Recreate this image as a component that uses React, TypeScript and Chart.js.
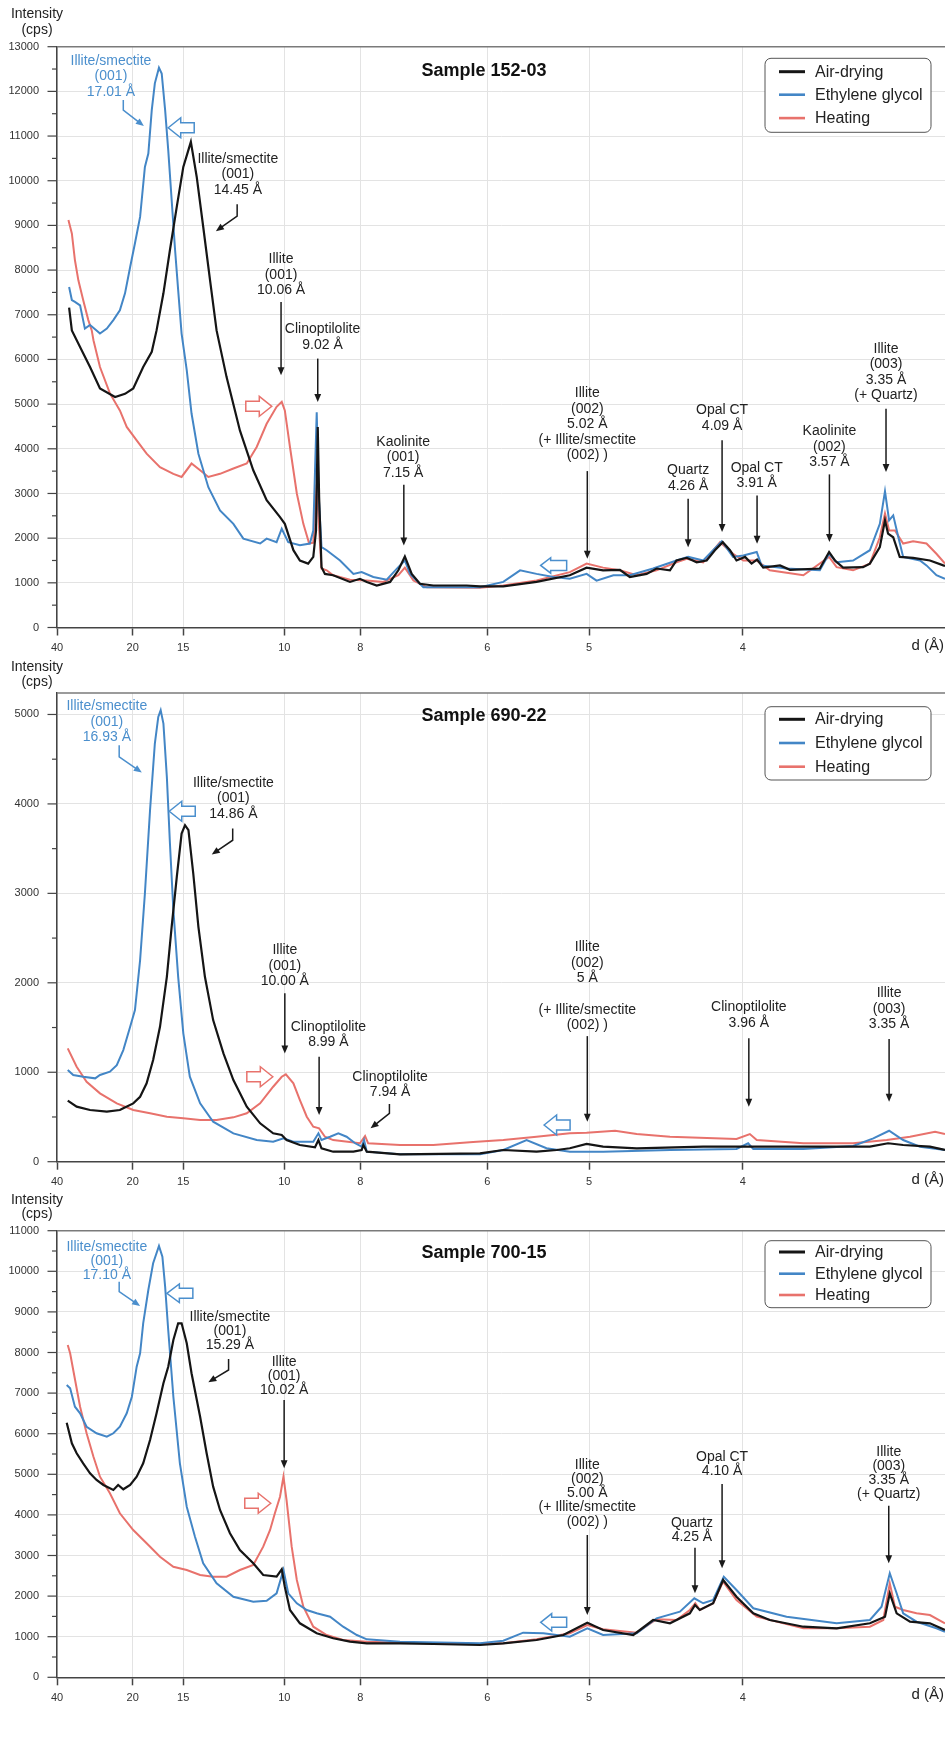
import React, { useEffect, useRef } from "react";
import { Chart, registerables } from "chart.js";
Chart.register(...registerables);

const FONT = "'Liberation Sans', Arial, Helvetica, sans-serif";
const LAMBDA = 1.5406; // Cu K-alpha, Å
const dTicks = [40, 20, 15, 10, 8, 6, 5, 4];
const twoThetaOf = (d: number) => (2 * Math.asin(LAMBDA / (2 * d)) * 180) / Math.PI;
const X_MIN = twoThetaOf(40);
const X_MAX = 28.1;
const Y_STEP = 500;

const seriesNames = ["Air-drying", "Ethylene glycol", "Heating"];
const seriesColors = ["#151515", "#4386c6", "#e8726c"];
const BLUE_TXT = "#4b8fcd";
const RED_ARR = "#e8726c";

type Pt = [number, number];

// ---------- Sample 152-03 (2θ °, cps) ----------
const s152Air: Pt[] = [[2.56,7160],[2.64,6650],[2.93,6200],[3.17,5830],[3.46,5350],[3.90,5160],[4.19,5230],[4.43,5350],[4.72,5830],[4.97,6170],[5.11,6650],[5.31,7480],[5.50,8450],[5.70,9420],[5.89,10310],[6.04,10690],[6.11,10870],[6.28,10090],[6.47,8970],[6.67,7770],[6.86,6650],[7.15,5610],[7.54,4410],[7.93,3520],[8.32,2850],[8.71,2470],[8.85,2320],[9.10,1730],[9.29,1500],[9.53,1430],[9.68,1580],[9.76,2170],[9.81,4490],[9.85,2920],[9.92,1350],[10.02,1200],[10.26,1170],[10.75,1020],[11.04,1090],[11.24,1020],[11.53,940],[11.92,1020],[12.16,1280],[12.35,1590],[12.55,1200],[12.79,980],[13.18,940],[14.15,940],[14.54,920],[15.22,920],[16.19,1020],[17.16,1170],[17.65,1340],[18.13,1280],[18.62,1290],[18.91,1130],[19.40,1200],[19.69,1320],[20.08,1280],[20.27,1500],[20.57,1560],[20.86,1460],[21.15,1500],[21.39,1730],[21.62,1910],[21.83,1730],[22.02,1500],[22.27,1580],[22.46,1430],[22.62,1520],[22.80,1340],[23.29,1390],[23.58,1290],[24.45,1320],[24.72,1690],[24.89,1500],[25.13,1340],[25.71,1350],[25.91,1430],[26.20,1800],[26.35,2400],[26.44,2100],[26.59,2020],[26.78,1580],[27.17,1560],[27.66,1500],[28.05,1390],[28.10,1380]];
const s152Eg: Pt[] = [[2.56,7620],[2.64,7330],[2.73,7290],[2.88,7210],[3.02,6690],[3.17,6770],[3.36,6650],[3.46,6580],[3.66,6690],[3.85,6880],[4.04,7100],[4.19,7480],[4.34,8070],[4.48,8600],[4.63,9190],[4.77,10310],[4.87,10610],[4.97,11580],[5.06,12180],[5.18,12530],[5.26,12400],[5.36,11580],[5.45,10690],[5.55,9570],[5.65,8450],[5.74,7550],[5.84,6580],[5.99,5760],[6.13,4790],[6.33,3890],[6.62,3140],[6.96,2620],[7.35,2320],[7.64,1990],[8.13,1880],[8.32,1990],[8.61,1910],[8.76,2210],[8.95,1910],[9.29,1840],[9.58,1880],[9.68,2170],[9.78,4820],[9.84,2920],[9.92,1800],[10.07,1730],[10.46,1500],[10.85,1200],[11.09,1240],[11.43,1130],[11.82,1070],[12.16,1350],[12.35,1500],[12.50,1200],[12.89,900],[13.67,900],[14.54,900],[15.22,1020],[15.71,1280],[16.19,1200],[16.68,1130],[17.16,1090],[17.65,1200],[17.94,1050],[18.43,1170],[18.91,1170],[19.59,1320],[20.27,1500],[20.61,1580],[21.05,1500],[21.59,1930],[21.92,1580],[22.22,1610],[22.61,1690],[22.75,1390],[23.48,1320],[24.45,1280],[24.72,1650],[24.94,1460],[25.42,1500],[25.91,1730],[26.20,2320],[26.35,3050],[26.47,2400],[26.59,2510],[26.74,2020],[26.88,1580],[27.37,1500],[27.56,1390],[27.85,1170],[28.10,1090]];
const s152Heat: Pt[] = [[2.54,9120],[2.64,8820],[2.73,8220],[2.83,7770],[2.97,7330],[3.12,6880],[3.22,6650],[3.27,6430],[3.46,5830],[3.75,5240],[4.04,4860],[4.24,4490],[4.53,4190],[4.82,3890],[5.21,3590],[5.60,3440],[5.84,3370],[6.13,3670],[6.38,3520],[6.62,3370],[6.96,3440],[7.35,3560],[7.74,3670],[8.03,4040],[8.32,4560],[8.61,4940],[8.76,5050],[8.85,4860],[9.00,4040],[9.20,3000],[9.39,2320],[9.56,1880],[9.68,1900],[9.78,3200],[9.85,2200],[9.92,1320],[10.07,1280],[10.26,1170],[10.75,1070],[11.24,1050],[11.72,1020],[12.16,1170],[12.35,1340],[12.60,1050],[12.99,900],[14.54,890],[15.22,940],[16.19,1050],[17.16,1240],[17.65,1430],[18.13,1340],[18.62,1280],[19.11,1170],[19.69,1280],[20.27,1460],[20.57,1540],[21.05,1460],[21.54,1910],[21.92,1650],[22.22,1500],[22.61,1500],[22.99,1280],[23.97,1170],[24.72,1580],[24.94,1350],[25.42,1280],[25.91,1430],[26.20,2020],[26.35,2550],[26.47,2170],[26.64,2170],[26.88,1880],[27.17,1930],[27.56,1880],[27.85,1650],[28.10,1430]];

// ---------- Sample 690-22 ----------
const s690Air: Pt[] = [[2.52,682],[2.78,615],[3.17,578],[3.66,559],[4.04,578],[4.14,597],[4.43,652],[4.63,726],[4.82,876],[5.01,1136],[5.21,1508],[5.41,2067],[5.55,2626],[5.70,3184],[5.84,3669],[5.94,3762],[6.04,3706],[6.18,3222],[6.33,2626],[6.52,2067],[6.76,1583],[7.06,1211],[7.35,913],[7.74,615],[8.13,429],[8.51,317],[8.76,298],[8.90,242],[9.29,187],[9.73,161],[9.83,242],[9.92,150],[10.26,112],[10.85,112],[11.09,131],[11.14,187],[11.24,112],[12.21,83],[14.54,94],[15.22,131],[16.19,112],[16.78,131],[17.16,150],[17.65,198],[18.13,168],[19.11,150],[21.05,168],[22.32,168],[23.97,168],[25.91,168],[26.44,206],[26.88,187],[27.66,168],[28.10,131]];
const s690Eg: Pt[] = [[2.52,1025],[2.68,969],[2.97,950],[3.32,932],[3.46,969],[3.75,1006],[3.95,1080],[4.14,1248],[4.34,1508],[4.48,1695],[4.63,2254],[4.77,2999],[4.92,3930],[5.06,4675],[5.16,4972],[5.23,5047],[5.31,4898],[5.41,4302],[5.50,3558],[5.60,2812],[5.74,2067],[5.89,1435],[6.08,950],[6.38,652],[6.76,447],[7.35,317],[8.03,242],[8.51,223],[8.81,261],[9.10,223],[9.68,223],[9.83,317],[9.92,242],[10.17,279],[10.41,317],[10.65,279],[10.90,206],[11.09,168],[11.16,242],[11.24,112],[12.21,83],[14.54,83],[15.22,131],[15.90,242],[16.48,150],[17.16,112],[18.13,112],[20.08,131],[22.02,142],[22.36,206],[22.51,142],[23.97,142],[25.42,175],[26.01,261],[26.47,346],[26.88,242],[27.37,168],[28.10,131]];
const s690Heat: Pt[] = [[2.52,1267],[2.78,1061],[3.07,894],[3.46,764],[3.95,652],[4.43,578],[4.92,541],[5.41,503],[5.89,485],[6.38,466],[6.86,466],[7.35,496],[7.74,541],[8.13,652],[8.51,838],[8.76,950],[8.88,977],[9.10,876],[9.29,689],[9.49,503],[9.68,391],[9.85,373],[10.02,279],[10.26,242],[11.04,206],[11.19,287],[11.28,206],[12.21,187],[13.18,187],[14.34,220],[15.22,242],[16.19,279],[17.16,317],[17.65,324],[18.48,346],[19.11,309],[20.08,279],[22.02,254],[22.41,309],[22.61,242],[23.97,206],[25.42,206],[26.40,242],[27.08,279],[27.81,335],[28.10,309]];

// ---------- Sample 700-15 ----------
const s700Air: Pt[] = [[2.49,6271],[2.64,5764],[2.78,5517],[2.97,5271],[3.17,5025],[3.36,4860],[3.56,4737],[3.85,4613],[3.99,4737],[4.14,4631],[4.34,4737],[4.53,4941],[4.72,5271],[4.92,5845],[5.11,6502],[5.31,7241],[5.45,7650],[5.60,8308],[5.74,8719],[5.84,8719],[5.99,8227],[6.13,7488],[6.38,6419],[6.57,5517],[6.76,4695],[6.96,4121],[7.25,3547],[7.54,3135],[7.93,2808],[8.22,2520],[8.61,2478],[8.76,2660],[8.85,2232],[9.00,1658],[9.29,1330],[9.78,1084],[10.26,961],[10.75,877],[11.24,837],[12.21,837],[13.18,820],[14.54,796],[15.22,837],[16.19,919],[16.97,1042],[17.67,1345],[18.13,1165],[19.01,1042],[19.59,1411],[20.08,1330],[20.66,1576],[20.81,1781],[20.95,1658],[21.34,1823],[21.63,2397],[22.02,1985],[22.51,1576],[22.99,1411],[23.97,1246],[24.94,1207],[25.91,1330],[26.35,1493],[26.49,2069],[26.69,1576],[27.08,1369],[27.66,1330],[28.10,1165]];
const s700Eg: Pt[] = [[2.49,7200],[2.59,7118],[2.73,6665],[2.88,6502],[3.07,6172],[3.36,6010],[3.66,5926],[3.85,6010],[4.04,6172],[4.24,6502],[4.39,6911],[4.53,7650],[4.63,7980],[4.72,8719],[4.87,9539],[5.01,10197],[5.18,10623],[5.28,10360],[5.36,9621],[5.45,8554],[5.60,6911],[5.79,5271],[5.99,4202],[6.23,3463],[6.47,2808],[6.86,2315],[7.35,1985],[7.93,1862],[8.32,1887],[8.61,2069],[8.81,2643],[8.95,2069],[9.20,1823],[9.49,1658],[9.78,1576],[10.17,1493],[10.55,1246],[10.95,1042],[11.24,936],[12.21,877],[14.54,837],[15.22,901],[15.80,1099],[16.39,1084],[17.16,1000],[17.67,1207],[18.13,1042],[19.11,1084],[19.69,1453],[20.37,1616],[20.79,1946],[21.05,1823],[21.34,1904],[21.65,2478],[22.02,2150],[22.51,1700],[23.48,1493],[24.94,1330],[25.91,1411],[26.25,1739],[26.49,2562],[26.69,2069],[26.88,1576],[27.27,1369],[27.85,1207],[28.10,1123]];
const s700Heat: Pt[] = [[2.52,8185],[2.59,7980],[2.68,7569],[2.88,6665],[3.07,6010],[3.27,5433],[3.46,4941],[3.75,4532],[4.04,4039],[4.43,3628],[4.82,3300],[5.21,2970],[5.60,2724],[5.99,2643],[6.38,2520],[6.76,2478],[7.15,2478],[7.54,2643],[7.93,2766],[8.22,3217],[8.42,3628],[8.56,4039],[8.71,4448],[8.81,4941],[8.90,4367],[9.05,3217],[9.20,2397],[9.39,1739],[9.68,1246],[10.07,1042],[10.55,919],[11.24,877],[12.21,852],[14.54,820],[15.22,837],[16.19,936],[17.16,1084],[17.67,1288],[18.13,1182],[19.11,1099],[19.69,1429],[20.27,1411],[20.66,1658],[20.82,1823],[20.95,1658],[21.34,1823],[21.63,2355],[22.02,1904],[22.61,1493],[23.97,1207],[24.94,1207],[25.91,1246],[26.30,1411],[26.49,2315],[26.64,1739],[26.88,1658],[27.27,1576],[27.66,1534],[28.10,1330]];

type Note = { x: number; y: number; lines: string[]; blue?: boolean; arrow: Pt[] };
type Hollow = { x: number; y: number; dir: number; blue: boolean; hh?: number; head?: number };

const notes152: Note[] = [
  { x: 3.78, y: 12679, blue: true, lines: ["Illite/smectite", "(001)", "17.01 Å"], arrow: [[4.14, 11805], [4.14, 11581], [4.74, 11223]] },
  { x: 7.48, y: 10484, lines: ["Illite/smectite", "(001)", "14.45 Å"], arrow: [[7.46, 9476], [7.46, 9207], [6.84, 8871]] },
  { x: 8.74, y: 8237, lines: ["Illite", "(001)", "10.06 Å"], arrow: [[8.74, 7287], [8.74, 5645]] },
  { x: 9.95, y: 6669, lines: ["Clinoptilolite", "9.02 Å"], arrow: [[9.81, 6019], [9.81, 5047]] },
  { x: 12.30, y: 4151, lines: ["Kaolinite", "(001)", "7.15 Å"], arrow: [[12.32, 3197], [12.32, 1837]] },
  { x: 17.67, y: 5235, lines: ["Illite", "(002)", "5.02 Å", "(+ Illite/smectite", "(002) )"], arrow: [[17.67, 3501], [17.67, 1539]] },
  { x: 20.61, y: 3517, lines: ["Quartz", "4.26 Å"], arrow: [[20.61, 2883], [20.61, 1799]] },
  { x: 21.60, y: 4861, lines: ["Opal CT", "4.09 Å"], arrow: [[21.60, 4189], [21.60, 2135]] },
  { x: 22.61, y: 3578, lines: ["Opal CT", "3.91 Å"], arrow: [[22.62, 2957], [22.62, 1875]] },
  { x: 24.73, y: 4391, lines: ["Kaolinite", "(002)", "3.57 Å"], arrow: [[24.73, 3427], [24.73, 1911]] },
  { x: 26.38, y: 6234, lines: ["Illite", "(003)", "3.35 Å", "(+ Quartz)"], arrow: [[26.38, 4899], [26.38, 3479]] },
];
const hollow152: Hollow[] = [
  { x: 5.45, y: 11185, dir: -1, blue: true },
  { x: 8.47, y: 4951, dir: 1, blue: false },
  { x: 16.31, y: 1389, dir: -1, blue: true, hh: 7.7, head: 10 },
];

const notes690: Note[] = [
  { x: 3.66, y: 5092, blue: true, lines: ["Illite/smectite", "(001)", "16.93 Å"], arrow: [[4.02, 4656], [4.02, 4525], [4.68, 4351]] },
  { x: 7.35, y: 4235, lines: ["Illite/smectite", "(001)", "14.86 Å"], arrow: [[7.33, 3725], [7.33, 3594], [6.72, 3435]] },
  { x: 8.85, y: 2362, lines: ["Illite", "(001)", "10.00 Å"], arrow: [[8.85, 1882], [8.85, 1211]] },
  { x: 10.12, y: 1508, lines: ["Clinoptilolite", "8.99 Å"], arrow: [[9.85, 1173], [9.85, 522]] },
  { x: 11.92, y: 950, lines: ["Clinoptilolite", "7.94 Å"], arrow: [[11.90, 645], [11.90, 541], [11.35, 373]] },
  { x: 17.67, y: 2396, lines: ["Illite", "(002)", "5 Å", "", "(+ Illite/smectite", "(002) )"], arrow: [[17.67, 1404], [17.67, 447]] },
  { x: 22.38, y: 1725, lines: ["Clinoptilolite", "3.96 Å"], arrow: [[22.38, 1379], [22.38, 615]] },
  { x: 26.47, y: 1882, lines: ["Illite", "(003)", "3.35 Å"], arrow: [[26.47, 1371], [26.47, 670]] },
];
const hollow690: Hollow[] = [
  { x: 5.48, y: 3918, dir: -1, blue: true },
  { x: 8.50, y: 950, dir: 1, blue: false },
  { x: 16.41, y: 410, dir: -1, blue: true },
];

const notes700: Note[] = [
  { x: 3.66, y: 10599, blue: true, lines: ["Illite/smectite", "(001)", "17.10 Å"], arrow: [[4.02, 9744], [4.02, 9498], [4.63, 9145]] },
  { x: 7.25, y: 8867, lines: ["Illite/smectite", "(001)", "15.29 Å"], arrow: [[7.21, 7840], [7.21, 7569], [6.62, 7266]] },
  { x: 8.83, y: 7773, lines: ["Illite", "(001)", "10.02 Å"], arrow: [[8.83, 6830], [8.83, 5148]] },
  { x: 17.67, y: 5222, lines: ["Illite", "(002)", "5.00 Å", "(+ Illite/smectite", "(002) )"], arrow: [[17.67, 3505], [17.67, 1534]] },
  { x: 20.72, y: 3808, lines: ["Quartz", "4.25 Å"], arrow: [[20.81, 3192], [20.81, 2069]] },
  { x: 21.60, y: 5433, lines: ["Opal CT", "4.10 Å"], arrow: [[21.60, 4761], [21.60, 2685]] },
  { x: 26.46, y: 5557, lines: ["Illite", "(003)", "3.35 Å", "(+ Quartz)"], arrow: [[26.46, 4227], [26.46, 2808]] },
];
const hollow700: Hollow[] = [
  { x: 5.41, y: 9458, dir: -1, blue: true, hh: 9.3 },
  { x: 8.44, y: 4286, dir: 1, blue: false },
  { x: 16.31, y: 1355, dir: -1, blue: true, hh: 8.7, head: 11 },
];

type PanelCfg = {
  key: string;
  title: string;
  titleX: number;
  titleY: number;
  yMax: number;
  height: number;
  padTop: number;
  padBottom: number;
  series: Pt[][];
  notes: Note[];
  hollow: Hollow[];
  lineH: number;
  intensityDy: [number, number];
  legend: { dy: number; h: number; rows: number[] };
};

const panels: PanelCfg[] = [
  {
    key: "p1", title: "Sample 152-03", titleX: 14.66, titleY: 12455, yMax: 13000,
    height: 656, padTop: 46.7, padBottom: 0.5,
    series: [s152Air, s152Eg, s152Heat], notes: notes152, hollow: hollow152, lineH: 15.5,
    intensityDy: [-32.7, -16.7], legend: { dy: 11.6, h: 74, rows: [13.4, 36.4, 59.8] },
  },
  {
    key: "p2", title: "Sample 690-22", titleX: 14.66, titleY: 4980, yMax: 5240,
    height: 536, padTop: 37, padBottom: 2.3,
    series: [s690Air, s690Eg, s690Heat], notes: notes690, hollow: hollow690, lineH: 15.6,
    intensityDy: [-26.3, -10.7], legend: { dy: 13.7, h: 73.3, rows: [12.6, 36.3, 60] },
  },
  {
    key: "p3", title: "Sample 700-15", titleX: 14.66, titleY: 10458, yMax: 11000,
    height: 564, padTop: 38.7, padBottom: 50.7,
    series: [s700Air, s700Eg, s700Heat], notes: notes700, hollow: hollow700, lineH: 14.1,
    intensityDy: [-30.7, -16.4], legend: { dy: 10, h: 67, rows: [11.3, 33, 54.3] },
  },
];

function arrowLine(ctx: CanvasRenderingContext2D, pts: { x: number; y: number }[], color: string) {
  const n = pts.length;
  const a = pts[n - 2], b = pts[n - 1];
  const dx = b.x - a.x, dy = b.y - a.y;
  const L = Math.hypot(dx, dy) || 1;
  const ux = dx / L, uy = dy / L;
  const hl = 8, hw = 3.4;
  ctx.strokeStyle = color;
  ctx.fillStyle = color;
  ctx.lineWidth = 1.5;
  ctx.beginPath();
  ctx.moveTo(pts[0].x, pts[0].y);
  for (let i = 1; i < n - 1; i++) ctx.lineTo(pts[i].x, pts[i].y);
  ctx.lineTo(b.x - ux * hl * 0.8, b.y - uy * hl * 0.8);
  ctx.stroke();
  ctx.beginPath();
  ctx.moveTo(b.x, b.y);
  ctx.lineTo(b.x - ux * hl - uy * hw, b.y - uy * hl + ux * hw);
  ctx.lineTo(b.x - ux * hl + uy * hw, b.y - uy * hl - ux * hw);
  ctx.closePath();
  ctx.fill();
}

function makeDecor(cfg: PanelCfg) {
  return {
    id: "decor_" + cfg.key,
    afterDraw(chart: any) {
      const ctx: CanvasRenderingContext2D = chart.ctx;
      const a = chart.chartArea;
      const xs = chart.scales.x, ys = chart.scales.y;
      const X = (v: number) => xs.getPixelForValue(v);
      const Y = (v: number) => ys.getPixelForValue(v);
      ctx.save();
      // top frame line
      ctx.strokeStyle = "#7a7a7a";
      ctx.lineWidth = 1.5;
      ctx.beginPath();
      ctx.moveTo(a.left, a.top);
      ctx.lineTo(a.right, a.top);
      ctx.stroke();
      // y tick marks (major / minor)
      ctx.strokeStyle = "#444";
      ctx.lineWidth = 1.2;
      for (let v = 0; v <= cfg.yMax + 1e-6; v += Y_STEP) {
        const y = Y(v);
        const len = v % 1000 === 0 ? 9.5 : 5;
        ctx.beginPath();
        ctx.moveTo(a.left - len, y);
        ctx.lineTo(a.left, y);
        ctx.stroke();
      }
      // axis titles
      ctx.fillStyle = "#222";
      ctx.textBaseline = "middle";
      ctx.textAlign = "center";
      ctx.font = `14px ${FONT}`;
      ctx.fillText("Intensity", 37, a.top + cfg.intensityDy[0]);
      ctx.fillText("(cps)", 37, a.top + cfg.intensityDy[1]);
      ctx.textAlign = "right";
      ctx.font = `15px ${FONT}`;
      ctx.fillText("d (Å)", a.right - 1, a.bottom + 18);
      // sample title
      ctx.textAlign = "center";
      ctx.fillStyle = "#111";
      ctx.font = `bold 18px ${FONT}`;
      ctx.fillText(cfg.title, X(cfg.titleX), Y(cfg.titleY));
      // hollow block arrows
      for (const h of cfg.hollow) {
        const tx = X(h.x), ty = Y(h.y);
        const s = -h.dir;
        const len = 26, head = h.head ?? 12.5, hh = h.hh ?? 10, bh = 5;
        ctx.beginPath();
        ctx.moveTo(tx, ty);
        ctx.lineTo(tx + s * head, ty - hh);
        ctx.lineTo(tx + s * head, ty - bh);
        ctx.lineTo(tx + s * len, ty - bh);
        ctx.lineTo(tx + s * len, ty + bh);
        ctx.lineTo(tx + s * head, ty + bh);
        ctx.lineTo(tx + s * head, ty + hh);
        ctx.closePath();
        ctx.fillStyle = "#fff";
        ctx.fill();
        ctx.strokeStyle = h.blue ? BLUE_TXT : RED_ARR;
        ctx.lineWidth = 1.5;
        ctx.stroke();
      }
      // peak notes
      ctx.font = `14px ${FONT}`;
      ctx.textAlign = "center";
      for (const n of cfg.notes) {
        const color = n.blue ? BLUE_TXT : "#222";
        ctx.fillStyle = color;
        const cx = X(n.x);
        let cy = Y(n.y);
        for (const line of n.lines) {
          if (line) ctx.fillText(line, cx, cy);
          cy += cfg.lineH;
        }
        arrowLine(ctx, n.arrow.map(([px, py]) => ({ x: X(px), y: Y(py) })), n.blue ? BLUE_TXT : "#1a1a1a");
      }
      // legend box
      const lg = cfg.legend;
      const bx = a.right - 180, by = a.top + lg.dy, bw = 166, bhh = lg.h;
      ctx.beginPath();
      if ((ctx as any).roundRect) (ctx as any).roundRect(bx, by, bw, bhh, 6);
      else ctx.rect(bx, by, bw, bhh);
      ctx.fillStyle = "#fff";
      ctx.fill();
      ctx.strokeStyle = "#555";
      ctx.lineWidth = 1;
      ctx.stroke();
      ctx.font = `16px ${FONT}`;
      ctx.textAlign = "left";
      seriesNames.forEach((name, i) => {
        const y = by + lg.rows[i];
        ctx.strokeStyle = seriesColors[i];
        ctx.lineWidth = i === 0 ? 3 : 2.6;
        ctx.beginPath();
        ctx.moveTo(bx + 14, y);
        ctx.lineTo(bx + 40, y);
        ctx.stroke();
        ctx.fillStyle = "#222";
        ctx.fillText(name, bx + 50, y + 0.5);
      });
      ctx.restore();
    },
  };
}

function Panel({ cfg }: { cfg: PanelCfg }) {
  const ref = useRef<HTMLCanvasElement>(null);
  useEffect(() => {
    if (!ref.current) return;
    const chart = new Chart(ref.current, {
      type: "line",
      data: {
        datasets: cfg.series.map((s, i) => ({
          label: seriesNames[i],
          data: s.map(([x, y]) => ({ x, y })),
          borderColor: seriesColors[i],
          backgroundColor: seriesColors[i],
          borderWidth: i === 0 ? 2.2 : 2,
          pointRadius: 0,
          tension: 0,
          fill: false,
        })),
      },
      options: {
        responsive: false,
        animation: false,
        devicePixelRatio: 1,
        events: [],
        layout: { autoPadding: false, padding: { top: cfg.padTop, bottom: cfg.padBottom, left: 0, right: 0 } },
        plugins: { legend: { display: false }, tooltip: { enabled: false } },
        scales: {
          x: {
            type: "linear",
            min: X_MIN,
            max: X_MAX,
            afterBuildTicks: (s: any) => {
              s.ticks = dTicks.map((d) => ({ value: twoThetaOf(d) }));
            },
            afterFit: (s: any) => {
              s.height = 28;
            },
            ticks: {
              autoSkip: false,
              maxRotation: 0,
              padding: 6,
              color: "#333",
              font: { family: FONT, size: 11 },
              callback: (_v: any, i: number) => String(dTicks[i]),
            },
            grid: { color: "#e3e3e3", lineWidth: 1, tickColor: "#444", tickLength: 8, tickWidth: 1.5 },
            border: { color: "#444", width: 1.5 },
          },
          y: {
            type: "linear",
            min: 0,
            max: cfg.yMax,
            afterBuildTicks: (s: any) => {
              const t: { value: number }[] = [];
              for (let v = 0; v <= cfg.yMax + 1e-6; v += Y_STEP) t.push({ value: v });
              s.ticks = t;
            },
            afterFit: (s: any) => {
              s.width = 57;
            },
            ticks: {
              autoSkip: false,
              padding: 18,
              color: "#333",
              font: { family: FONT, size: 11 },
              callback: (v: any) => (Number(v) % 1000 === 0 ? String(v) : ""),
            },
            grid: {
              drawTicks: false,
              lineWidth: 1,
              color: (c: any) => (c.tick && c.tick.value % 1000 === 0 && c.tick.value > 0 ? "#e3e3e3" : "rgba(0,0,0,0)"),
            },
            border: { color: "#444", width: 1.5 },
          },
        },
      } as any,
      plugins: [makeDecor(cfg)],
    });
    return () => chart.destroy();
  }, [cfg]);
  return <canvas ref={ref} width={945} height={cfg.height} style={{ display: "block", width: 945, height: cfg.height }} />;
}

export default function App() {
  return (
    <div style={{ position: "absolute", left: 0, top: 0, width: 945, height: 1756, background: "#fff" }}>
      {panels.map((p) => (
        <Panel key={p.key} cfg={p} />
      ))}
    </div>
  );
}
